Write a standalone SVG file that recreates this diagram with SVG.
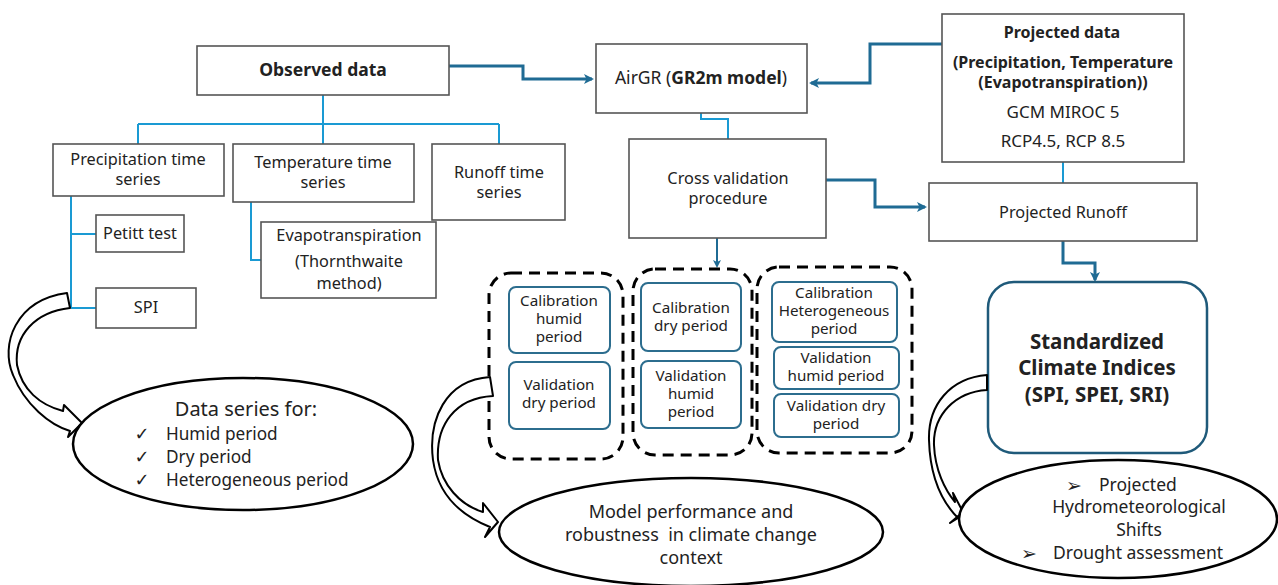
<svg xmlns="http://www.w3.org/2000/svg" width="1278" height="585" viewBox="0 0 1278 585">
<style>
.box{fill:#fff;stroke:#555;stroke-width:1.6}
.ibox{fill:#fff;stroke:#2c6d8e;stroke-width:2}
.dash{fill:none;stroke:#000;stroke-width:3;stroke-dasharray:11 7}
.ell{fill:#fff;stroke:#000;stroke-width:2.5}
.curve{fill:#fff;stroke:#000;stroke-width:2;stroke-linejoin:round}
.lb{fill:none;stroke:#1a9ad3;stroke-width:2}
.db{fill:none;stroke:#1f6b94;stroke-width:3}
text{font-family:"Noto Sans","DejaVu Sans",sans-serif;fill:#222;text-anchor:middle}
.t14{font-size:15.2px}
.t15{font-size:16.3px}
.b{font-weight:bold}
.sym{font-family:"DejaVu Sans",sans-serif}
.pre{white-space:pre}
</style>
<defs>
<marker id="ah" markerWidth="8" markerHeight="8" refX="6" refY="4" orient="auto" markerUnits="userSpaceOnUse" viewBox="0 0 8 8">
<path d="M0,0 L8,4 L0,8 L2,4 Z" fill="#1f6b94"/>
</marker>
<marker id="ahs" markerWidth="10" markerHeight="10" refX="8" refY="5" orient="auto" markerUnits="userSpaceOnUse" viewBox="0 0 10 10">
<path d="M0,0 L10,5 L0,10 L2.5,5 Z" fill="#1f6b94"/>
</marker>
</defs>

<g id="connectors">
<path class="lb" d="M323,95 V124 M138,124 H499 M138,124 V144 M323,124 V144 M499,124 V144"/>
<path class="lb" d="M71,196 V308 M71,234 H96 M71,308 H96"/>
<path class="lb" d="M251,202 V260 H261"/>
<path class="lb" d="M701,113 V119 H728 V139"/>
<path class="lb" d="M1063,162 V183"/>
<path class="db" d="M449,66 H523 V79 H592" marker-end="url(#ahs)"/>
<path class="db" d="M942,44 H870 V83 H811" marker-end="url(#ahs)"/>
<path class="db" d="M822,180 H875 V207 H925" marker-end="url(#ahs)"/>
<path style="fill:none;stroke:#1f6b94;stroke-width:2" d="M717,238 V266" marker-end="url(#ah)"/>
<path class="db" d="M1063,241 V263 H1095 V280" marker-end="url(#ahs)"/>
</g>

<g id="observed"><rect class="box" x="197" y="46" width="252" height="49"/><text class="b" x="323" y="76" style="font-size:17.5px">Observed data</text></g>
<g id="precip"><rect class="box" x="53" y="144" width="171" height="52"/><text class="t15" x="138" y="165">Precipitation time</text><text class="t15" x="138" y="185">series</text></g>
<g id="temp"><rect class="box" x="233" y="144" width="181" height="58"/><text class="t15" x="323" y="168">Temperature time</text><text class="t15" x="323" y="188">series</text></g>
<g id="runoff"><rect class="box" x="432" y="144" width="133" height="76"/><text class="t15" x="499" y="178">Runoff time</text><text class="t15" x="499" y="198">series</text></g>
<g id="petitt"><rect class="box" x="96" y="215" width="88" height="37"/><text class="t15" x="140" y="239">Petitt test</text></g>
<g id="spi"><rect class="box" x="96" y="288" width="100" height="40"/><text class="t15" x="146" y="313">SPI</text></g>
<g id="evapo"><rect class="box" x="261" y="222" width="175" height="76"/><text class="t15" x="349" y="241">Evapotranspiration</text><text class="t15" x="349" y="267">(Thornthwaite</text><text class="t15" x="349" y="289">method)</text></g>

<g id="airgr"><rect class="box" x="596" y="44" width="211" height="69"/><text x="701" y="84" style="font-size:17.5px">AirGR (<tspan class="b">GR2m model</tspan>)</text></g>
<g id="crossval"><rect class="box" x="629" y="139" width="197" height="99"/><text class="t15" x="728" y="184">Cross validation</text><text class="t15" x="728" y="204">procedure</text></g>

<g id="projdata"><rect class="box" x="942" y="14" width="242" height="148"/>
<text class="b" x="1062" y="38" style="font-size:16px">Projected data</text>
<text class="b" x="1063" y="68" style="font-size:16px">(Precipitation, Temperature</text>
<text class="b" x="1063" y="88" style="font-size:16px">(Evapotranspiration))</text>
<text x="1063" y="118" style="font-size:17px">GCM MIROC 5</text>
<text x="1063" y="147" style="font-size:17px">RCP4.5, RCP 8.5</text></g>
<g id="projrunoff"><rect class="box" x="929" y="183" width="268" height="58"/><text class="t15" x="1063" y="218">Projected Runoff</text></g>

<g id="sci"><rect x="988" y="282" width="219" height="171" rx="26" fill="#fff" stroke="#1f5a7a" stroke-width="2.5"/>
<text class="b" x="1097" y="349" style="font-size:20.5px">Standardized</text>
<text class="b" x="1097" y="375" style="font-size:20.5px">Climate Indices</text>
<text class="b" x="1097" y="402" style="font-size:20.5px">(SPI, SPEI, SRI)</text></g>

<g id="group1"><rect class="dash" x="489" y="273" width="134" height="186" rx="22"/>
<rect class="ibox" x="509" y="287" width="101" height="66" rx="7"/>
<text class="t14" x="559" y="306">Calibration</text><text class="t14" x="559" y="324">humid</text><text class="t14" x="559" y="342">period</text>
<rect class="ibox" x="509" y="362" width="101" height="67" rx="7"/>
<text class="t14" x="559" y="390">Validation</text><text class="t14" x="559" y="408">dry period</text></g>

<g id="group2"><rect class="dash" x="633" y="269" width="119" height="186" rx="22"/>
<rect class="ibox" x="641" y="283" width="100" height="68" rx="7"/>
<text class="t14" x="691" y="313">Calibration</text><text class="t14" x="691" y="331">dry period</text>
<rect class="ibox" x="641" y="361" width="100" height="67" rx="7"/>
<text class="t14" x="691" y="381">Validation</text><text class="t14" x="691" y="399">humid</text><text class="t14" x="691" y="417">period</text></g>

<g id="group3"><rect class="dash" x="757" y="267" width="155" height="186" rx="22"/>
<rect class="ibox" x="772" y="282" width="125" height="60" rx="7"/>
<text class="t14" x="834" y="298">Calibration</text><text class="t14" x="834" y="316">Heterogeneous</text><text class="t14" x="834" y="334">period</text>
<rect class="ibox" x="774" y="347" width="125" height="42" rx="7"/>
<text class="t14" x="836" y="363">Validation</text><text class="t14" x="836" y="381">humid period</text>
<rect class="ibox" x="774" y="394" width="125" height="43" rx="7"/>
<text class="t14" x="836" y="411">Validation dry</text><text class="t14" x="836" y="429">period</text></g>

<g id="curved-arrows">
<path class="curve" d="M67,293 C15,300 0,345 13,375 C25,405 50,425 70,431 L68,437 L82,423 L64,405 L63,411 C40,405 22,390 17,365 C14,335 35,312 70,308 Z"/>
<path class="curve" d="M490,377 C445,380 428,420 433,460 C438,495 460,515 490,527 L485,537 L498,522 L483,503 L483,512 C460,505 442,485 438,460 C436,425 455,398 493,396 Z"/>
<path class="curve" d="M987,375 C950,378 928,405 929,440 C930,475 940,500 958,518 L950,523 L963,512 L953,493 L955,502 C945,490 935,470 934,445 C933,415 955,392 987,390 Z"/>
</g>

<g id="dataseries"><ellipse class="ell" cx="243" cy="444" rx="170" ry="66"/>
<text x="246" y="416" style="font-size:20px">Data series for:</text>
<text class="sym" x="142" y="440" style="font-size:18px">✓</text><text x="166" y="440" style="font-size:17.2px;text-anchor:start">Humid period</text>
<text class="sym" x="142" y="463" style="font-size:18px">✓</text><text x="166" y="463" style="font-size:17.2px;text-anchor:start">Dry period</text>
<text class="sym" x="142" y="486" style="font-size:18px">✓</text><text x="166" y="486" style="font-size:17.2px;text-anchor:start">Heterogeneous period</text></g>

<g id="modelperf"><ellipse class="ell" cx="691" cy="532" rx="192" ry="54"/>
<text x="691" y="518" style="font-size:18px">Model performance and</text>
<text class="pre" x="691" y="541" style="font-size:18px">robustness  in climate change</text>
<text x="691" y="564" style="font-size:18px">context</text></g>

<g id="shifts"><ellipse class="ell" cx="1118" cy="519" rx="159" ry="59"/>
<text class="sym" x="1074" y="492" style="font-size:19px">➢</text><text x="1099" y="491" style="font-size:17.5px;text-anchor:start">Projected</text>
<text x="1139" y="513" style="font-size:17.5px">Hydrometeorological</text>
<text x="1139" y="536" style="font-size:17.5px">Shifts</text>
<text class="sym" x="1029" y="560" style="font-size:19px">➢</text><text x="1053" y="559" style="font-size:17.5px;text-anchor:start">Drought assessment</text></g>
</svg>
